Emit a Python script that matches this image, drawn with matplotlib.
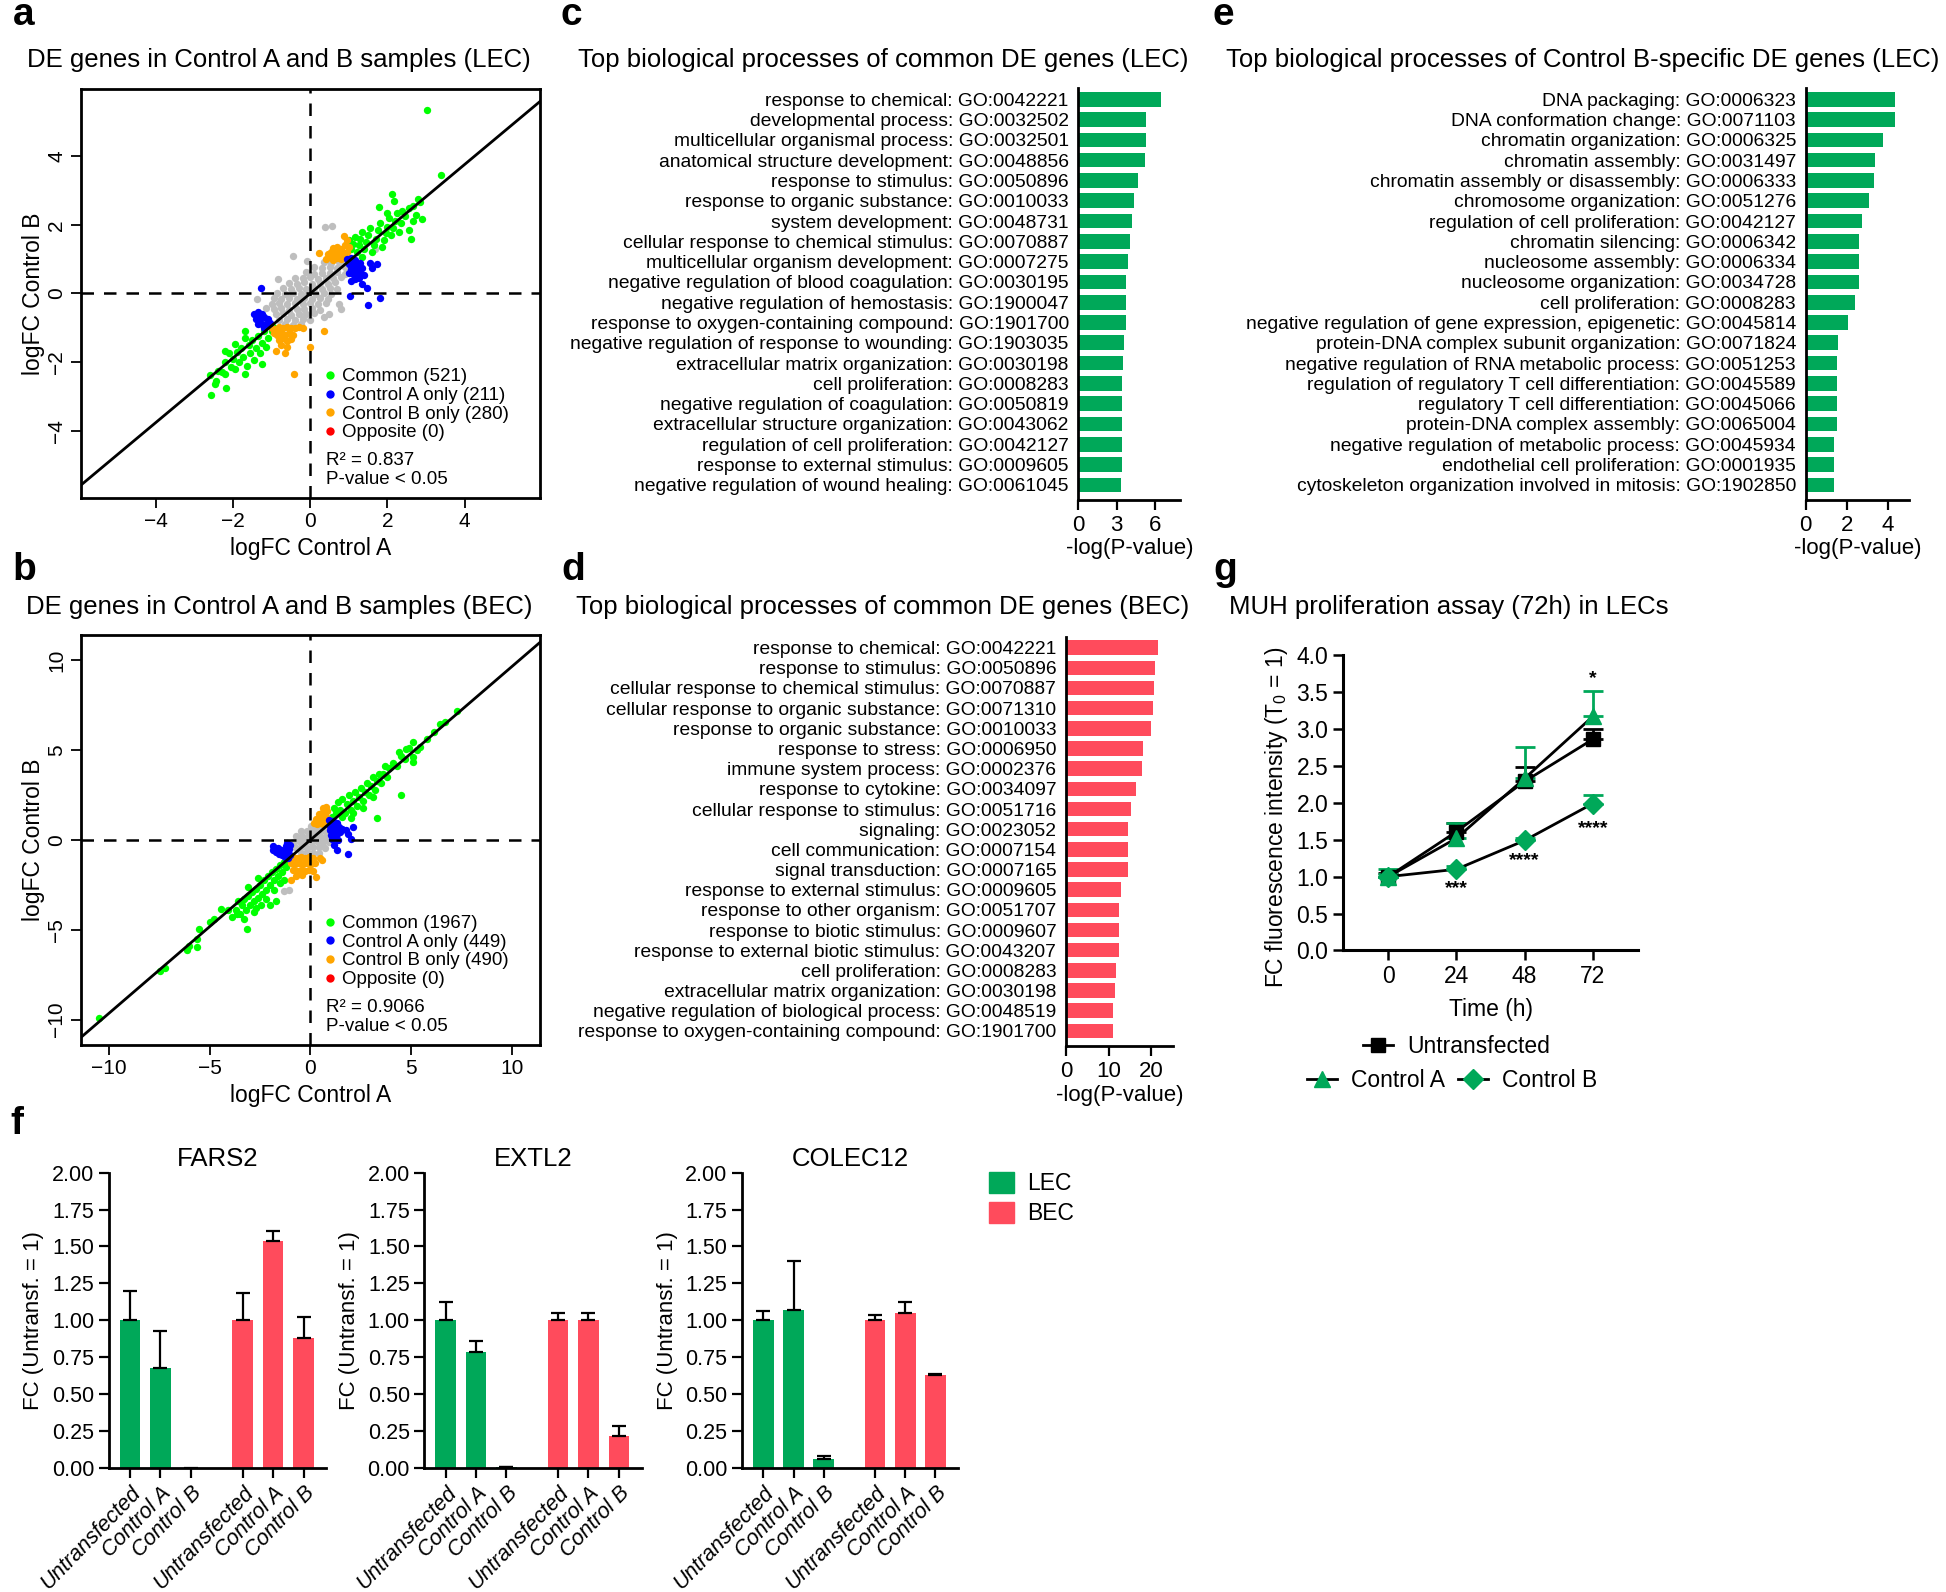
import matplotlib
matplotlib.use("Agg")
import numpy as np
import matplotlib.pyplot as plt
from matplotlib.lines import Line2D
from matplotlib.patches import Patch

plt.rcParams["font.family"] = ["Liberation Sans", "DejaVu Sans"]
plt.rcParams["mathtext.fontset"] = "custom"
plt.rcParams["mathtext.rm"] = "Liberation Sans"

# ---------------------------------------------------------------- data
# a: LEC scatter (logFC Control A, logFC Control B), read off the cloud
lec_gray = [(0.35, 0.92), (0.55, 0.88), (0.75, 0.93), (0.92, 0.9),
            (0.1, 0.77), (0.3, 0.73), (0.5, 0.76), (0.7, 0.74), (0.9, 0.77),
            (-0.1, 0.62), (0.1, 0.58), (0.3, 0.61), (0.5, 0.59), (0.7, 0.62), (0.9, 0.58),
            (-0.4, 0.46), (-0.2, 0.44), (0.0, 0.47), (0.2, 0.43), (0.4, 0.46), (0.6, 0.44), (0.8, 0.47),
            (-0.55, 0.31), (-0.35, 0.28), (-0.15, 0.32), (0.05, 0.29), (0.25, 0.31), (0.45, 0.28), (0.65, 0.32),
            (-0.7, 0.16), (-0.5, 0.13), (-0.3, 0.17), (-0.1, 0.14), (0.1, 0.16), (0.3, 0.13), (0.5, 0.17),
            (0.7, 0.14),
            (-0.85, 0.01), (-0.65, -0.02), (-0.45, 0.02), (-0.25, -0.01), (-0.05, 0.02), (0.15, -0.02),
            (0.35, 0.01), (0.55, -0.01),
            (-0.95, -0.14), (-0.75, -0.17), (-0.55, -0.13), (-0.35, -0.16), (-0.15, -0.14), (0.05, -0.17),
            (0.25, -0.13), (0.45, -0.16),
            (-1.0, -0.31), (-0.8, -0.28), (-0.6, -0.32), (-0.4, -0.29), (-0.2, -0.31), (0.0, -0.28),
            (0.2, -0.32), (0.4, -0.29),
            (-0.95, -0.46), (-0.75, -0.43), (-0.55, -0.47), (-0.35, -0.44), (-0.15, -0.46), (0.05, -0.43),
            (0.25, -0.47),
            (-0.9, -0.61), (-0.7, -0.58), (-0.5, -0.62), (-0.3, -0.59), (-0.1, -0.61), (0.1, -0.58),
            (-0.8, -0.76), (-0.6, -0.73), (-0.4, -0.77), (-0.2, -0.74), (0.0, -0.76),
            (-0.65, -0.88), (-0.45, -0.91), (-0.25, -0.89),
            (0.38, 1.94), (0.57, 1.97), (-0.44, 1.1), (-0.09, 0.95), (-0.84, 0.42), (-1.37, -0.16),
            (0.75, -0.31), (0.8, -0.46), (0.49, -0.6), (0.35, -0.7), (-1.15, -0.41), (1.68, 1.29)]
lec_common = [(1.0, 1.55), (1.05, 1.3), (1.1, 1.45), (1.15, 1.65), (1.2, 1.2), (1.25, 1.4), (1.3, 1.6),
              (1.35, 1.8), (1.4, 1.3), (1.45, 1.5), (1.5, 1.7), (1.55, 1.9), (1.6, 1.2), (1.65, 1.4),
              (1.7, 1.6), (1.75, 1.85), (1.8, 2.05), (1.85, 1.35), (1.9, 1.55), (1.95, 1.75), (2.0, 1.95),
              (2.05, 2.2), (2.1, 1.7), (2.15, 1.9), (2.2, 2.1), (2.25, 2.35), (2.3, 1.8), (2.35, 2.05),
              (2.45, 2.25), (2.55, 2.5), (2.6, 1.6), (2.65, 2.1), (2.75, 2.3), (2.85, 2.68), (2.9, 2.16),
              (2.12, 2.89), (2.18, 2.7), (1.78, 2.53), (2.0, 2.35), (2.38, 2.39), (2.57, 1.84), (3.4, 3.45),
              (3.03, 5.34), (1.12, 1.0), (1.35, 1.05), (2.65, 2.55), (2.8, 2.75),
              (-0.97, -0.99), (-2.48, -2.64), (-2.21, -1.67), (-1.95, -1.47), (-1.68, -1.09), (-1.24, -2.05),
              (-1.68, -2.34), (-1.95, -2.2), (-2.21, -2.34), (-2.61, -2.39), (-2.57, -2.96), (-2.19, -2.75),
              (-2.39, -2.25), (-1.0, -1.1), (-1.1, -1.3), (-1.2, -1.1), (-1.25, -1.45), (-1.35, -1.25),
              (-1.4, -1.6), (-1.5, -1.35), (-1.55, -1.75), (-1.6, -1.5), (-1.7, -1.3), (-1.75, -1.85),
              (-1.8, -1.6), (-1.85, -2.0), (-1.9, -1.7), (-2.0, -1.9), (-2.05, -2.15), (-2.1, -1.75),
              (-2.2, -2.0), (-2.3, -2.3), (-1.45, -1.95), (-1.3, -1.75), (-1.15, -1.55), (-1.65, -2.1),
              (-2.45, -2.55)]
lec_a_only = [(0.95, 1.0), (1.05, 1.02), (1.15, 0.98), (1.0, 0.85), (1.1, 0.88), (1.2, 0.85), (1.3, 0.9),
              (1.05, 0.72), (1.15, 0.7), (1.25, 0.73), (1.35, 0.75), (1.1, 0.58), (1.2, 0.56), (1.3, 0.6),
              (1.0, 0.6), (1.15, 0.42), (1.25, 0.45), (1.05, 0.35), (1.4, 0.55), (1.02, -0.07), (1.5, -0.33),
              (1.81, -0.12), (1.46, 0.17), (1.33, 0.27), (1.72, 0.85), (1.55, 0.9), (1.6, 0.75),
              (-1.45, -0.6), (-1.35, -0.55), (-1.25, -0.6), (-1.4, -0.75), (-1.3, -0.72), (-1.2, -0.7),
              (-1.1, -0.75), (-1.35, -0.9), (-1.25, -0.88), (-1.15, -0.9), (-1.05, -0.85), (-1.2, -1.0),
              (-1.28, 0.17)]
lec_b_only = [(0.4, 1.0), (0.5, 1.05), (0.6, 0.98), (0.7, 1.02), (0.8, 1.0), (0.9, 1.05), (1.0, 1.0),
              (0.45, 1.15), (0.55, 1.2), (0.65, 1.15), (0.75, 1.2), (0.85, 1.18), (0.95, 1.22), (0.6, 1.32),
              (0.7, 1.35), (0.8, 1.3), (0.9, 1.4), (1.0, 1.35), (0.88, 1.68), (0.22, 1.19), (0.95, 1.55),
              (-1.0, -1.0), (-0.9, -1.05), (-0.8, -0.98), (-0.7, -1.0), (-0.6, -0.97), (-0.5, -1.0),
              (-0.4, -1.02), (-0.3, -0.98), (-0.2, -1.0), (-0.95, -1.15), (-0.85, -1.2), (-0.75, -1.15),
              (-0.65, -1.2), (-0.55, -1.15), (-0.45, -1.2), (-0.8, -1.35), (-0.7, -1.3), (-0.6, -1.38),
              (-0.5, -1.32), (-0.88, -1.67), (-0.66, -1.74), (0.0, -1.55), (0.35, -1.1), (-0.42, -2.35),
              (-0.75, -1.5), (-0.6, -1.55)]
lec_counts = [521, 211, 280, 0]
lec_r2 = "0.837"
lec_slope = 0.94

# b: BEC scatter
bec_gray = [(0.05, 0.8), (0.3, 0.78), (0.55, 0.82),
            (-0.45, 0.5), (-0.15, 0.48), (0.15, 0.52), (0.45, 0.5), (0.75, 0.48),
            (-0.7, 0.2), (-0.4, 0.22), (-0.1, 0.18), (0.2, 0.2), (0.5, 0.22), (0.8, 0.18),
            (-0.85, -0.1), (-0.55, -0.08), (-0.25, -0.12), (0.05, -0.1), (0.35, -0.08), (0.65, -0.12),
            (0.95, -0.1),
            (-0.75, -0.4), (-0.45, -0.38), (-0.15, -0.42), (0.15, -0.4), (0.45, -0.38), (0.75, -0.42),
            (-0.45, -0.7), (-0.15, -0.68), (0.15, -0.72), (0.45, -0.7),
            (-1.28, -2.82), (-1.05, -2.8)]
bec_common = [(-1.1, -1.0), (-1.2, -1.5), (-1.3, -1.2), (-1.4, -1.8), (-1.5, -1.4), (-1.6, -2.0), (-1.7, -1.6),
              (-1.8, -2.2), (-1.9, -1.8), (-2.0, -2.5), (-2.1, -2.0), (-2.2, -2.8), (-2.3, -2.2), (-2.4, -3.0),
              (-2.5, -2.5), (-2.6, -3.2), (-2.7, -2.7), (-2.8, -3.4), (-2.9, -2.9), (-3.0, -3.6),
              (-3.1, -3.1), (-3.2, -3.9), (-3.3, -3.3), (-3.4, -3.6), (-3.5, -4.1), (-3.6, -3.4),
              (-3.7, -3.9), (-3.9, -4.3), (-4.1, -3.9), (-1.5, -2.4), (-1.8, -2.8), (-2.2, -3.3),
              (-2.0, -3.6), (-1.7, -3.4), (-1.3, -2.2), (-2.6, -2.1), (-3.1, -2.6), (-2.45, -3.6),
              (-2.8, -4.0), (-3.3, -4.4), (-10.5, -9.9), (-7.45, -7.28), (-7.2, -7.1), (-6.1, -6.1),
              (-5.6, -5.98), (-5.6, -5.5), (-5.53, -4.97), (-5.0, -4.57), (-4.42, -3.84), (-3.65, -4.1),
              (-3.15, -4.94), (-2.68, -3.76), (-4.8, -4.4), (-6.0, -5.9),
              (1.1, 1.3), (1.2, 1.8), (1.3, 1.5), (1.4, 2.1), (1.5, 1.7), (1.6, 2.3), (1.7, 1.5), (1.8, 2.0),
              (1.9, 2.5), (2.0, 1.7), (2.1, 2.2), (2.2, 2.7), (2.3, 1.9), (2.4, 2.4), (2.5, 2.9), (2.6, 2.2),
              (2.7, 2.7), (2.8, 3.2), (2.9, 2.5), (3.0, 3.0), (3.1, 3.5), (3.2, 2.8), (3.3, 3.3), (3.4, 3.7),
              (3.5, 3.2), (3.6, 3.7), (3.7, 4.1), (3.8, 3.5), (3.9, 4.0), (4.1, 4.3), (4.3, 4.1), (4.5, 4.7),
              (4.7, 4.5), (4.9, 5.1), (1.6, 1.3), (2.1, 1.5), (3.32, 1.21), (2.0, 1.2), (2.6, 1.8),
              (3.1, 2.4), (5.08, 5.46), (5.44, 5.17), (5.78, 5.63), (6.12, 6.0), (6.46, 6.45), (6.67, 6.6),
              (7.31, 7.18), (4.5, 2.52), (5.1, 4.35), (5.08, 4.6), (5.3, 5.0), (4.76, 5.08), (4.4, 4.9)]
bec_a_only = [(0.95, 1.1), (1.05, 0.95), (1.15, 1.05), (1.0, 0.8), (1.1, 0.75), (1.25, 0.85), (1.35, 0.95),
              (1.0, 0.55), (1.15, 0.5), (1.3, 0.6), (1.45, 0.7), (1.05, 0.3), (1.2, 0.25), (1.35, 0.35),
              (1.5, 0.45), (1.1, 0.05), (1.25, 0.1), (1.4, 0.0), (1.6, 0.6), (1.75, 0.55), (2.13, 0.7),
              (2.04, 0.05), (1.87, -0.77), (1.33, -0.55), (1.2, -0.3), (1.85, 0.35),
              (-1.85, -0.55), (-1.7, -0.65), (-1.55, -0.75), (-1.4, -0.85), (-1.25, -0.95), (-1.1, -1.0),
              (-1.6, -0.45), (-1.45, -0.55), (-1.3, -0.65), (-1.15, -0.75), (-1.0, -0.85), (-1.2, -0.35),
              (-1.05, -0.5), (-1.15, -0.15), (-1.0, -0.25), (-1.87, -0.35)]
bec_b_only = [(0.2, 0.95), (0.35, 0.9), (0.5, 0.95), (0.65, 0.88), (0.8, 0.92), (0.95, 0.9), (0.3, 1.15),
              (0.45, 1.2), (0.6, 1.12), (0.75, 1.18), (0.9, 1.15), (0.45, 1.45), (0.6, 1.5), (0.75, 1.4),
              (0.85, 1.6), (0.65, 1.8), (0.8, 1.85),
              (-1.05, -1.0), (-0.85, -0.95), (-0.65, -1.0), (-0.45, -0.95), (-0.25, -1.0), (-0.05, -0.95),
              (0.15, -1.0), (-0.95, -1.3), (-0.75, -1.35), (-0.55, -1.3), (-0.35, -1.35), (-0.15, -1.3),
              (0.05, -1.35), (0.25, -1.3), (-0.85, -1.65), (-0.65, -1.7), (-0.45, -1.65), (-0.25, -1.7),
              (-0.05, -1.65), (0.15, -1.7), (-0.7, -2.0), (-0.4, -1.95), (0.3, -2.05), (0.6, -1.13),
              (-0.94, -2.23), (0.5, -1.0)]
bec_counts = [1967, 449, 490, 0]
bec_r2 = "0.9066"
bec_slope = 0.965

# c, d, e: GO enrichment
c_labels = ["response to chemical: GO:0042221", "developmental process: GO:0032502",
            "multicellular organismal process: GO:0032501", "anatomical structure development: GO:0048856",
            "response to stimulus: GO:0050896", "response to organic substance: GO:0010033",
            "system development: GO:0048731", "cellular response to chemical stimulus: GO:0070887",
            "multicellular organism development: GO:0007275",
            "negative regulation of blood coagulation: GO:0030195",
            "negative regulation of hemostasis: GO:1900047", "response to oxygen-containing compound: GO:1901700",
            "negative regulation of response to wounding: GO:1903035",
            "extracellular matrix organization: GO:0030198", "cell proliferation: GO:0008283",
            "negative regulation of coagulation: GO:0050819", "extracellular structure organization: GO:0043062",
            "regulation of cell proliferation: GO:0042127", "response to external stimulus: GO:0009605",
            "negative regulation of wound healing: GO:0061045"]
c_values = [6.49, 5.28, 5.28, 5.21, 4.69, 4.36, 4.23, 4.03, 3.93, 3.77,
            3.77, 3.77, 3.54, 3.48, 3.44, 3.44, 3.44, 3.44, 3.41, 3.38]

d_labels = ["response to chemical: GO:0042221", "response to stimulus: GO:0050896",
            "cellular response to chemical stimulus: GO:0070887",
            "cellular response to organic substance: GO:0071310", "response to organic substance: GO:0010033",
            "response to stress: GO:0006950", "immune system process: GO:0002376",
            "response to cytokine: GO:0034097", "cellular response to stimulus: GO:0051716",
            "signaling: GO:0023052", "cell communication: GO:0007154", "signal transduction: GO:0007165",
            "response to external stimulus: GO:0009605", "response to other organism: GO:0051707",
            "response to biotic stimulus: GO:0009607", "response to external biotic stimulus: GO:0043207",
            "cell proliferation: GO:0008283", "extracellular matrix organization: GO:0030198",
            "negative regulation of biological process: GO:0048519",
            "response to oxygen-containing compound: GO:1901700"]
d_values = [21.6, 20.8, 20.7, 20.4, 20.0, 17.9, 17.7, 16.4, 15.3, 14.5,
            14.4, 14.4, 12.8, 12.4, 12.4, 12.4, 11.6, 11.35, 10.9, 10.9]

e_labels = ["DNA packaging: GO:0006323", "DNA conformation change: GO:0071103",
            "chromatin organization: GO:0006325", "chromatin assembly: GO:0031497",
            "chromatin assembly or disassembly: GO:0006333", "chromosome organization: GO:0051276",
            "regulation of cell proliferation: GO:0042127", "chromatin silencing: GO:0006342",
            "nucleosome assembly: GO:0006334", "nucleosome organization: GO:0034728",
            "cell proliferation: GO:0008283",
            "negative regulation of gene expression, epigenetic: GO:0045814",
            "protein-DNA complex subunit organization: GO:0071824",
            "negative regulation of RNA metabolic process: GO:0051253",
            "regulation of regulatory T cell differentiation: GO:0045589",
            "regulatory T cell differentiation: GO:0045066", "protein-DNA complex assembly: GO:0065004",
            "negative regulation of metabolic process: GO:0045934",
            "endothelial cell proliferation: GO:0001935",
            "cytoskeleton organization involved in mitosis: GO:1902850"]
e_values = [4.32, 4.32, 3.75, 3.36, 3.31, 3.09, 2.72, 2.58, 2.58, 2.58,
            2.40, 2.06, 1.55, 1.51, 1.51, 1.51, 1.51, 1.37, 1.35, 1.35]

# f: qPCR fold change
f_conditions = ["Untransfected", "Control A", "Control B"]
f_genes = ["FARS2", "EXTL2", "COLEC12"]
f_lec = {"FARS2": [1.0, 0.675, 0.0], "EXTL2": [1.0, 0.784, 0.005], "COLEC12": [1.0, 1.071, 0.063]}
f_lec_err = {"FARS2": [0.196, 0.249, np.nan], "EXTL2": [0.123, 0.077, 0.0], "COLEC12": [0.06, 0.333, 0.016]}
f_bec = {"FARS2": [1.0, 1.536, 0.879], "EXTL2": [1.0, 1.0, 0.215], "COLEC12": [1.0, 1.051, 0.627]}
f_bec_err = {"FARS2": [0.185, 0.068, 0.141], "EXTL2": [0.049, 0.049, 0.07], "COLEC12": [0.033, 0.075, 0.012]}

# g: MUH proliferation assay
g_time = [0, 24, 48, 72]
g_untransfected = [1.0, 1.61, 2.29, 2.86]
g_untransfected_err = [0.05, 0.11, 0.2, 0.14]
g_control_a = [1.0, 1.52, 2.33, 3.17]
g_control_a_err = [0.1, 0.2, 0.43, 0.35]
g_control_b = [1.0, 1.10, 1.49, 1.99]
g_control_b_err = [0.04, 0.05, 0.04, 0.12]
g_stars = [(24, 0.84, "***"), (48, 1.22, "****"), (72, 1.65, "****"), (72, 3.68, "*")]

# ---------------------------------------------------------------- style
GREEN = "#00a859"
RED = "#ff4b5c"
SC_COLORS = ["#00ff00", "#0000ff", "#ffa500", "#ff0000"]
SC_NAMES = ["Common", "Control A only", "Control B only", "Opposite"]

W, H = 1568, 1283  # layout grid in preview pixels

fig = plt.figure(figsize=(19.46, 15.92), dpi=100)


def box(l, t, r, b):
    return [l / W, 1 - b / H, (r - l) / W, (b - t) / H]


def ftext(x, y, s, **kw):
    fig.text(x / W, 1 - y / H, s, **kw)


def scatter_panel(ax, gray, common, a_only, b_only, lim, ticks, slope, counts, r2):
    for pts, c in [(gray, "#bebebe"), (common, SC_COLORS[0]), (b_only, SC_COLORS[2]), (a_only, SC_COLORS[1])]:
        xy = np.array(pts)
        ax.scatter(xy[:, 0], xy[:, 1], s=28, c=c, lw=0, zorder=2)
    ax.axhline(0, color="black", lw=1.8, ls=(0, (5, 4)), zorder=3)
    ax.axvline(0, color="black", lw=1.8, ls=(0, (5, 4)), zorder=3)
    ax.axline((0, 0), slope=slope, color="black", lw=2, zorder=4)
    ax.set_xlim(-lim, lim)
    ax.set_ylim(-lim, lim)
    ax.set_xticks(ticks)
    ax.set_yticks(ticks)
    ax.tick_params(direction="out", length=7, width=1.3, labelsize=15)
    plt.setp(ax.get_yticklabels(), rotation=90, va="center")
    for s in ax.spines.values():
        s.set_linewidth(2)
    ax.set_xlabel("logFC Control A", fontsize=16.5)
    ax.set_ylabel("logFC Control B", fontsize=16.5)
    ax.xaxis.set_label_coords(0.5, -0.125)
    ax.xaxis.label.set_va("center")
    ax.yaxis.set_label_coords(-0.103, 0.5)
    ax.yaxis.label.set_va("center")
    handles = [Line2D([], [], ls="", marker="o", ms=6, mec="none", mfc=c) for c in SC_COLORS]
    labels = [f"{n} ({k})" for n, k in zip(SC_NAMES, counts)]
    ax.legend(handles, labels, loc="upper left", bbox_to_anchor=(0.515, 0.335), frameon=False,
              fontsize=13.5, handlelength=0.6, handletextpad=0.35, labelspacing=0.08, borderaxespad=0)
    ax.text(0.535, 0.09, f"R² = {r2}", transform=ax.transAxes, fontsize=13.5, va="center")
    ax.text(0.535, 0.045, "P-value < 0.05", transform=ax.transAxes, fontsize=13.5, va="center")


def go_panel(ax, labels, values, color, xmax, xticks):
    y = np.arange(len(values))
    ax.barh(y, values, height=0.72, color=color, edgecolor="none")
    ax.set_ylim(len(values) - 0.25, -0.55)
    ax.set_xlim(0, xmax)
    ax.set_yticks(y)
    ax.set_yticklabels(labels, fontsize=13.85)
    ax.tick_params(axis="y", length=0, pad=7)
    ax.set_xticks(xticks)
    ax.tick_params(axis="x", length=7, width=1.6, labelsize=16)
    for side in ["top", "right"]:
        ax.spines[side].set_visible(False)
    for side in ["left", "bottom"]:
        ax.spines[side].set_linewidth(2)
    ax.set_xlabel("-log(P-value)", fontsize=16)
    ax.xaxis.set_label_coords(0.5, -0.118)
    ax.xaxis.label.set_va("center")


def gene_panel(ax, gene):
    pos_lec = np.array([0, 1, 2])
    pos_bec = pos_lec + 3.7
    ax.bar(pos_lec, f_lec[gene], width=0.68, color=GREEN)
    ax.bar(pos_bec, f_bec[gene], width=0.68, color=RED)
    ax.errorbar(pos_lec, f_lec[gene], yerr=[np.zeros(3), f_lec_err[gene]], fmt="none",
                ecolor="black", elinewidth=1.6, capsize=5, capthick=1.6)
    ax.errorbar(pos_bec, f_bec[gene], yerr=[np.zeros(3), f_bec_err[gene]], fmt="none",
                ecolor="black", elinewidth=1.6, capsize=5, capthick=1.6)
    ax.set_xlim(-0.7, 6.45)
    ax.set_ylim(0, 2.0)
    ticks = np.arange(0, 2.01, 0.25)
    ax.set_yticks(ticks)
    ax.set_yticklabels([f"{v:.2f}" for v in ticks])
    ax.set_xticks(np.concatenate([pos_lec, pos_bec]))
    ax.set_xticklabels(f_conditions * 2, rotation=46, ha="right", rotation_mode="anchor",
                       fontstyle="italic", fontsize=15.5)
    ax.tick_params(length=7, width=1.6)
    ax.tick_params(axis="y", labelsize=15.5)
    for side in ["top", "right"]:
        ax.spines[side].set_visible(False)
    for side in ["left", "bottom"]:
        ax.spines[side].set_linewidth(2)
    ax.set_ylabel("FC (Untransf. = 1)", fontsize=16)
    ax.yaxis.set_label_coords(-0.345, 0.5)
    ax.yaxis.label.set_va("center")
    ax.set_title(gene, fontsize=18.5, pad=5)


# ---------------------------------------------------------------- a, b
ax_a = fig.add_axes(box(65, 72, 435, 401))
scatter_panel(ax_a, lec_gray, lec_common, lec_a_only, lec_b_only, 5.95, [-4, -2, 0, 2, 4],
              lec_slope, lec_counts, lec_r2)
ax_b = fig.add_axes(box(65, 512, 435, 842))
scatter_panel(ax_b, bec_gray, bec_common, bec_a_only, bec_b_only, 11.4, [-10, -5, 0, 5, 10],
              bec_slope, bec_counts, bec_r2)
ftext(225, 48, "DE genes in Control A and B samples (LEC)", fontsize=18.5, ha="center", va="center")
ftext(225, 489, "DE genes in Control A and B samples (BEC)", fontsize=18.5, ha="center", va="center")

# ---------------------------------------------------------------- c, d, e
ax_c = fig.add_axes(box(869, 71, 951, 403))
go_panel(ax_c, c_labels, c_values, GREEN, 8, [0, 3, 6])
ax_e = fig.add_axes(box(1455, 71, 1538, 403))
go_panel(ax_e, e_labels, e_values, GREEN, 5, [0, 2, 4])
ax_d = fig.add_axes(box(859, 513, 945, 843))
go_panel(ax_d, d_labels, d_values, RED, 25, [0, 10, 20])
ax_d.xaxis.set_label_coords(0.5, -0.12)
ftext(712, 48, "Top biological processes of common DE genes (LEC)", fontsize=18.5, ha="center", va="center")
ftext(1275, 48, "Top biological processes of Control B-specific DE genes (LEC)", fontsize=18.5,
      ha="center", va="center")
ftext(711, 489, "Top biological processes of common DE genes (BEC)", fontsize=18.5, ha="center", va="center")

# ---------------------------------------------------------------- g
ax_g = fig.add_axes(box(1082, 528, 1320, 766))
zeros4 = np.zeros(4)
g_series = [
    (g_untransfected, g_untransfected_err, "s", 10, "black", "Untransfected"),
    (g_control_a, g_control_a_err, "^", 12, GREEN, "Control A"),
    (g_control_b, g_control_b_err, "D", 10, GREEN, "Control B"),
]
g_handles = []
for vals, err, mk, ms, col, lab in g_series:
    ax_g.errorbar(g_time, vals, yerr=[zeros4, err], color="black", lw=2, marker=mk, ms=ms,
                  mfc=col, mec=col, ecolor=col, elinewidth=2, capsize=7, capthick=2, zorder=3)
    g_handles.append(Line2D([], [], color="black", lw=2, marker=mk, ms=ms, mfc=col, mec=col, label=lab))
for t, yv, s in g_stars:
    ax_g.text(t, yv, s, ha="center", va="center", fontsize=14, fontweight="bold")
ax_g.set_xlim(-16, 88)
ax_g.set_ylim(0, 4)
ax_g.set_xticks(g_time)
gt = np.arange(0, 4.01, 0.5)
ax_g.set_yticks(gt)
ax_g.set_yticklabels([f"{v:.1f}" for v in gt])
ax_g.tick_params(length=7, width=1.8, labelsize=16.5)
for side in ["top", "right"]:
    ax_g.spines[side].set_visible(False)
for side in ["left", "bottom"]:
    ax_g.spines[side].set_linewidth(2.2)
ax_g.set_xlabel("Time (h)", fontsize=16.5)
ax_g.xaxis.set_label_coords(0.5, -0.2)
ax_g.xaxis.label.set_va("center")
ax_g.set_ylabel(r"FC fluorescence intensity (T$_\mathregular{0}$ = 1)", fontsize=16.5)
ax_g.yaxis.set_label_coords(-0.225, 0.45)
ax_g.yaxis.label.set_va("center")
leg1 = ax_g.legend(handles=g_handles[:1], loc="center", bbox_to_anchor=(0.385, -0.325), frameon=False,
                   fontsize=16.5, handlelength=1.3, handletextpad=0.6)
ax_g.add_artist(leg1)
ax_g.legend(handles=g_handles[1:], loc="center", bbox_to_anchor=(0.37, -0.44), ncol=2, frameon=False,
            fontsize=16.5, handlelength=1.3, handletextpad=0.6, columnspacing=0.6)
ftext(990, 489, "MUH proliferation assay (72h) in LECs", fontsize=18.5, ha="left", va="center")

# ---------------------------------------------------------------- f
f_boxes = [(87.5, 945, 263, 1183), (342, 945, 517, 1183), (598, 945, 772, 1183)]
for gene, bx in zip(f_genes, f_boxes):
    gene_panel(fig.add_axes(box(*bx)), gene)
fig.legend(handles=[Patch(color=GREEN), Patch(color=RED)], labels=["LEC", "BEC"],
           loc="upper left", bbox_to_anchor=(780 / W, 1 - 928 / H), frameon=False, fontsize=16.5,
           handlelength=1.1, handleheight=1.0, handletextpad=0.6, labelspacing=0.3)

# ---------------------------------------------------------------- panel letters
for letter, x, y in [("a", 10, 12), ("b", 10, 459), ("c", 452, 12), ("d", 452, 459),
                     ("e", 977, 12), ("f", 8, 906), ("g", 978, 459)]:
    ftext(x, y, letter, fontsize=28, fontweight="bold", ha="left", va="center")

fig.savefig("out.png", dpi=100)
